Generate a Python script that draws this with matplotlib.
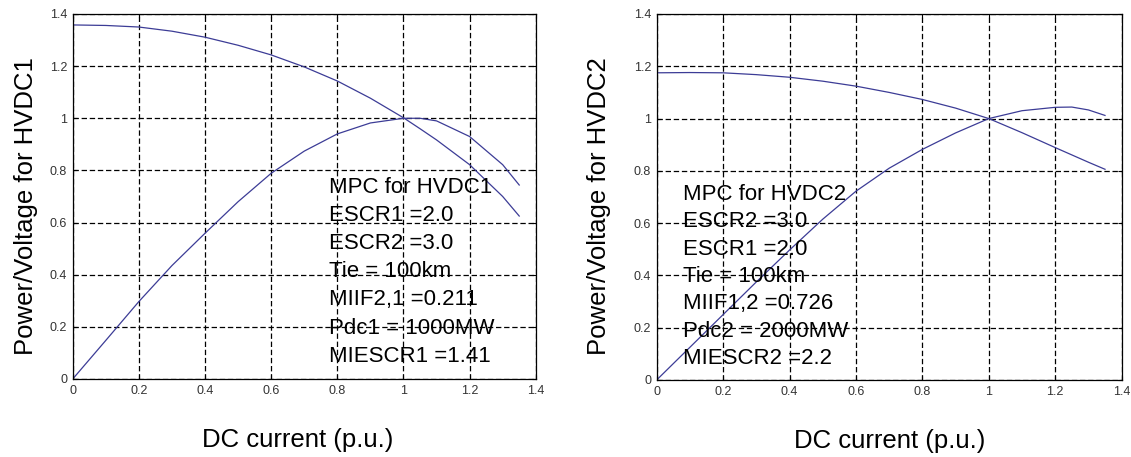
import matplotlib
matplotlib.use("Agg")
from matplotlib import pyplot as plt

# data
current = [0, 0.1, 0.2, 0.3, 0.4, 0.5, 0.6, 0.7, 0.8, 0.9, 1.0, 1.05, 1.1, 1.2, 1.3, 1.35]
voltage1 = [1.358, 1.356, 1.350, 1.334, 1.311, 1.280, 1.243, 1.197, 1.143, 1.077, 1.002, 0.960, 0.917, 0.822, 0.700, 0.625]
power1 = [0, 0.148, 0.297, 0.435, 0.559, 0.680, 0.789, 0.874, 0.940, 0.982, 1.000, 1.000, 0.990, 0.930, 0.822, 0.744]

current2 = [0, 0.1, 0.2, 0.3, 0.4, 0.5, 0.6, 0.7, 0.8, 0.9, 1.0, 1.1, 1.2, 1.25, 1.3, 1.35]
voltage2 = [1.175, 1.176, 1.175, 1.168, 1.158, 1.143, 1.124, 1.100, 1.073, 1.040, 1.000, 0.946, 0.889, 0.861, 0.833, 0.806]
power2 = [0, 0.125, 0.250, 0.375, 0.497, 0.615, 0.722, 0.810, 0.882, 0.945, 1.000, 1.030, 1.043, 1.044, 1.033, 1.012]

ticks = [0, 0.2, 0.4, 0.6, 0.8, 1.0, 1.2, 1.4]
tick_labels = ["0", "0.2", "0.4", "0.6", "0.8", "1", "1.2", "1.4"]

notes1 = ["MPC for HVDC1", "ESCR1 =2.0", "ESCR2 =3.0", "Tie = 100km",
          "MIIF2,1 =0.211", "Pdc1 = 1000MW", "MIESCR1 =1.41"]
notes2 = ["MPC for HVDC2", "ESCR2 =3.0", "ESCR1 =2.0", "Tie = 100km",
          "MIIF1,2 =0.726", "Pdc2 = 2000MW", "MIESCR2 =2.2"]

plt.rcParams['font.family'] = ['Liberation Sans', 'DejaVu Sans']

fig = plt.figure(figsize=(11.31, 4.57), dpi=100)
ax1 = fig.add_axes([0.0643, 0.1707, 0.4094, 0.7987])
ax2 = fig.add_axes([0.5806, 0.1685, 0.4111, 0.8009])

line_col = "#3c3c96"


def setup(ax, ylabel, xlab_x, ylab_x):
    ax.set_xlim(0, 1.4)
    ax.set_ylim(0, 1.4)
    ax.set_xticks(ticks)
    ax.set_xticklabels(tick_labels)
    ax.set_yticks(ticks)
    ax.set_yticklabels(tick_labels)
    ax.tick_params(direction="in", length=3, width=0.8, top=True, right=True,
                   labelsize=9, labelcolor="#333333", pad=4)
    ax.grid(True, color="black", linewidth=0.9, linestyle=(0, (4.3, 2.2)))
    for s in ax.spines.values():
        s.set_linewidth(0.9)
    ax.set_xlabel("DC current (p.u.)", fontsize=18.5)
    ax.xaxis.set_label_coords(xlab_x, -0.135)
    ax.set_ylabel(ylabel, fontsize=18.5)
    ax.yaxis.set_label_coords(ylab_x, 0.475)


setup(ax1, "Power/Voltage for HVDC1", 0.485, -0.076)
setup(ax2, "Power/Voltage for HVDC2", 0.502, -0.099)

ax1.plot(current, voltage1, color=line_col, linewidth=0.9)
ax1.plot(current, power1, color=line_col, linewidth=0.9)
ax2.plot(current2, voltage2, color=line_col, linewidth=0.9)
ax2.plot(current2, power2, color=line_col, linewidth=0.9)

for i, t in enumerate(notes1):
    ax1.text(0.776, 0.735 - i * 0.108, t, fontsize=16, va="center", ha="left")
for i, t in enumerate(notes2):
    ax2.text(0.08, 0.711 - i * 0.105, t, fontsize=16, va="center", ha="left")

fig.savefig("out.png", dpi=100)
